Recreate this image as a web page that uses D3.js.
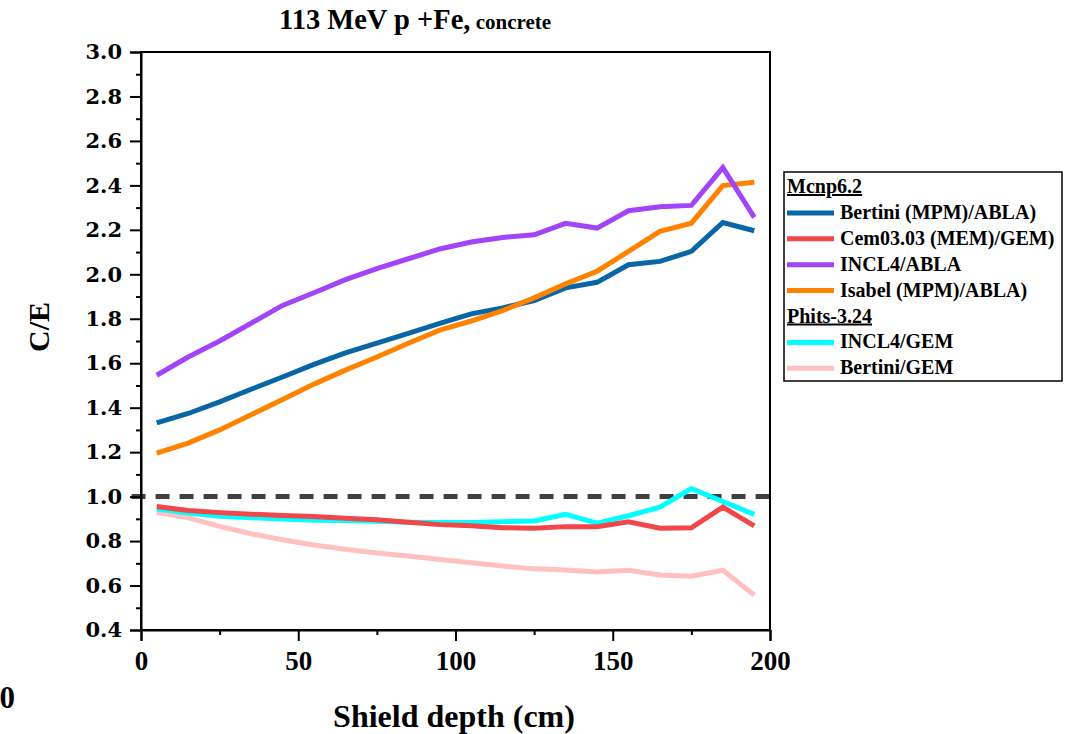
<!DOCTYPE html>
<html>
<head>
<meta charset="utf-8">
<script src="https://cdn.jsdelivr.net/npm/d3@7"></script>
<style>
  html, body { margin: 0; padding: 0; background: #fff; }
  svg { display: block; }
</style>
</head>
<body>
<svg id="chart" width="1069" height="734"></svg>
<script>
// Shield depth positions (cm)
const depth = [5, 15, 25, 35, 45, 55, 65, 75, 85, 95, 105, 115, 125, 135, 145, 155, 165, 175, 185, 195];

// C/E ratios per model
const bertiniMpmAbla = [1.332, 1.374, 1.426, 1.483, 1.538, 1.595, 1.647, 1.690, 1.734, 1.779, 1.822, 1.849, 1.882, 1.939, 1.964, 2.043, 2.058, 2.103, 2.233, 2.196];
const cemMemGem      = [0.956, 0.938, 0.928, 0.921, 0.915, 0.910, 0.903, 0.896, 0.885, 0.874, 0.869, 0.860, 0.858, 0.865, 0.865, 0.887, 0.858, 0.860, 0.953, 0.868];
const incl4Abla      = [1.546, 1.628, 1.700, 1.780, 1.860, 1.917, 1.976, 2.026, 2.070, 2.114, 2.145, 2.166, 2.178, 2.229, 2.208, 2.286, 2.304, 2.310, 2.480, 2.256];
const isabelMpmAbla  = [1.196, 1.241, 1.300, 1.368, 1.437, 1.506, 1.569, 1.628, 1.690, 1.749, 1.790, 1.837, 1.894, 1.957, 2.014, 2.103, 2.193, 2.230, 2.399, 2.414];
const phitsIncl4Gem  = [0.945, 0.926, 0.912, 0.905, 0.899, 0.894, 0.892, 0.889, 0.885, 0.884, 0.884, 0.887, 0.890, 0.920, 0.881, 0.914, 0.953, 1.036, 0.978, 0.920];
const phitsBertiniGem= [0.930, 0.905, 0.866, 0.833, 0.806, 0.782, 0.763, 0.746, 0.733, 0.717, 0.703, 0.688, 0.675, 0.670, 0.661, 0.669, 0.647, 0.642, 0.669, 0.557];

// Axis ticks
const xTicks = [0, 50, 100, 150, 200];
const xMinorTicks = [25, 75, 125, 175];
const yTicks = [0.4, 0.6, 0.8, 1.0, 1.2, 1.4, 1.6, 1.8, 2.0, 2.2, 2.4, 2.6, 2.8, 3.0];
const yMinorTicks = [0.5, 0.7, 0.9, 1.1, 1.3, 1.5, 1.7, 1.9, 2.1, 2.3, 2.5, 2.7, 2.9];

// Reference ratio
const unityLine = [-3, 200];
const unityValue = 1.0;

// Legend groups
const groupNames = ["Mcnp6.2", "Phits-3.24"];

const series = [
  { name: "Bertini (MPM)/ABLA)", group: 0, values: bertiniMpmAbla, color: "#0866a6" },
  { name: "Cem03.03 (MEM)/GEM)", group: 0, values: cemMemGem,      color: "#f0474a" },
  { name: "INCL4/ABLA",          group: 0, values: incl4Abla,      color: "#a244f7" },
  { name: "Isabel (MPM)/ABLA)",  group: 0, values: isabelMpmAbla,  color: "#ff8200" },
  { name: "INCL4/GEM",           group: 1, values: phitsIncl4Gem,  color: "#00ffff" },
  { name: "Bertini/GEM",         group: 1, values: phitsBertiniGem,color: "#ffc0c0" }
];

const svg = d3.select("#chart");
const margin = { left: 141, top: 52, right: 299, bottom: 104 };
const W = 1069 - margin.left - margin.right;
const H = 734 - margin.top - margin.bottom;

const x = d3.scaleLinear().domain([0, 200]).range([0, W]);
const y = d3.scaleLinear().domain([0.4, 3.0]).range([H, 0]);

const g = svg.append("g").attr("transform", `translate(${margin.left},${margin.top})`);

const serif = "'Liberation Serif', 'Times New Roman', serif";
const yFont = "'DejaVu Serif', serif";

// Title
const title = svg.append("text")
  .attr("x", 279).attr("y", 29)
  .attr("font-family", serif).attr("font-weight", "bold")
  .attr("fill", "#000");
title.append("tspan").attr("font-size", 28.5).text("113 MeV p +Fe,");
title.append("tspan").attr("font-size", 21).text(" concrete");

// Clip for data lines
svg.append("defs").append("clipPath").attr("id", "plotclip")
  .append("rect").attr("x", -12).attr("y", 0).attr("width", W + 12).attr("height", H);

// Unity reference line (dashed)
g.append("line")
  .attr("clip-path", "url(#plotclip)")
  .attr("x1", x(unityLine[0])).attr("x2", x(unityLine[1]))
  .attr("y1", y(unityValue)).attr("y2", y(unityValue))
  .attr("stroke", "#404040").attr("stroke-width", 5)
  .attr("stroke-dasharray", "14,10");

// Data lines
const line = d3.line().x((d, i) => x(depth[i])).y(d => y(d));
const drawOrder = [5, 4, 1, 0, 3, 2];
drawOrder.forEach(k => {
  const s = series[k];
  g.append("path")
    .datum(s.values)
    .attr("d", line)
    .attr("fill", "none")
    .attr("stroke", s.color)
    .attr("stroke-width", 5)
    .attr("stroke-linejoin", "miter");
});

// Frame
g.append("rect")
  .attr("x", 0).attr("y", 0).attr("width", W).attr("height", H)
  .attr("fill", "none").attr("stroke", "#000").attr("stroke-width", 2);

// X axis
const xAxis = g.append("g").attr("transform", `translate(0,${H})`)
  .call(d3.axisBottom(x).tickValues(xTicks).tickFormat(d3.format("d")).tickSize(11).tickPadding(10));
xAxis.select(".domain").attr("stroke-width", 2);
xAxis.selectAll(".tick line").attr("stroke-width", 2);
xAxis.selectAll("text")
  .attr("font-family", serif).attr("font-weight", "bold").attr("font-size", 27).attr("fill", "#000");
g.append("g").attr("transform", `translate(0,${H})`)
  .call(d3.axisBottom(x).tickValues(xMinorTicks).tickSize(5).tickFormat(""))
  .call(a => a.select(".domain").remove())
  .selectAll(".tick line").attr("stroke-width", 2);

// Y axis
const yAxis = g.append("g")
  .call(d3.axisLeft(y).tickValues(yTicks).tickFormat(d3.format(".1f")).tickSize(11).tickPadding(8));
yAxis.select(".domain").attr("stroke-width", 2);
yAxis.selectAll(".tick line").attr("stroke-width", 2);
yAxis.selectAll("text")
  .attr("font-family", yFont).attr("font-weight", "bold").attr("font-size", 21).attr("fill", "#000");
g.append("g")
  .call(d3.axisLeft(y).tickValues(yMinorTicks).tickSize(5).tickFormat(""))
  .call(a => a.select(".domain").remove())
  .selectAll(".tick line").attr("stroke-width", 2);

// Axis titles
svg.append("text")
  .attr("x", 454).attr("y", 727)
  .attr("text-anchor", "middle")
  .attr("font-family", serif).attr("font-weight", "bold").attr("font-size", 32)
  .text("Shield depth (cm)");

svg.append("text")
  .attr("transform", "translate(49,327) rotate(-90)")
  .attr("text-anchor", "middle")
  .attr("font-family", serif).attr("font-weight", "bold").attr("font-size", 30)
  .text("C/E");

svg.append("text")
  .attr("x", 15).attr("y", 708)
  .attr("text-anchor", "end")
  .attr("font-family", serif).attr("font-weight", "bold").attr("font-size", 31)
  .text("0");

// Legend
const lg = svg.append("g").attr("transform", "translate(784,172)");
lg.append("rect").attr("x", 0).attr("y", 0).attr("width", 278).attr("height", 209)
  .attr("fill", "#fff").attr("stroke", "#000").attr("stroke-width", 1.5);

const rowH = 25.9;
let row = 0;
groupNames.forEach((gn, gi) => {
  const ty = 21 + row * rowH;
  lg.append("text")
    .attr("x", 3).attr("y", ty)
    .attr("font-family", serif).attr("font-weight", "bold").attr("font-size", 20)
    .attr("text-decoration", "underline")
    .text(gn);
  row++;
  series.filter(s => s.group === gi).forEach(s => {
    const cy = 21 + row * rowH;
    lg.append("line")
      .attr("x1", 3).attr("x2", 50)
      .attr("y1", cy - 6).attr("y2", cy - 6)
      .attr("stroke", s.color).attr("stroke-width", 5);
    lg.append("text")
      .attr("x", 56).attr("y", cy)
      .attr("font-family", serif).attr("font-weight", "bold").attr("font-size", 20)
      .text(s.name);
    row++;
  });
});
</script>
</body>
</html>
